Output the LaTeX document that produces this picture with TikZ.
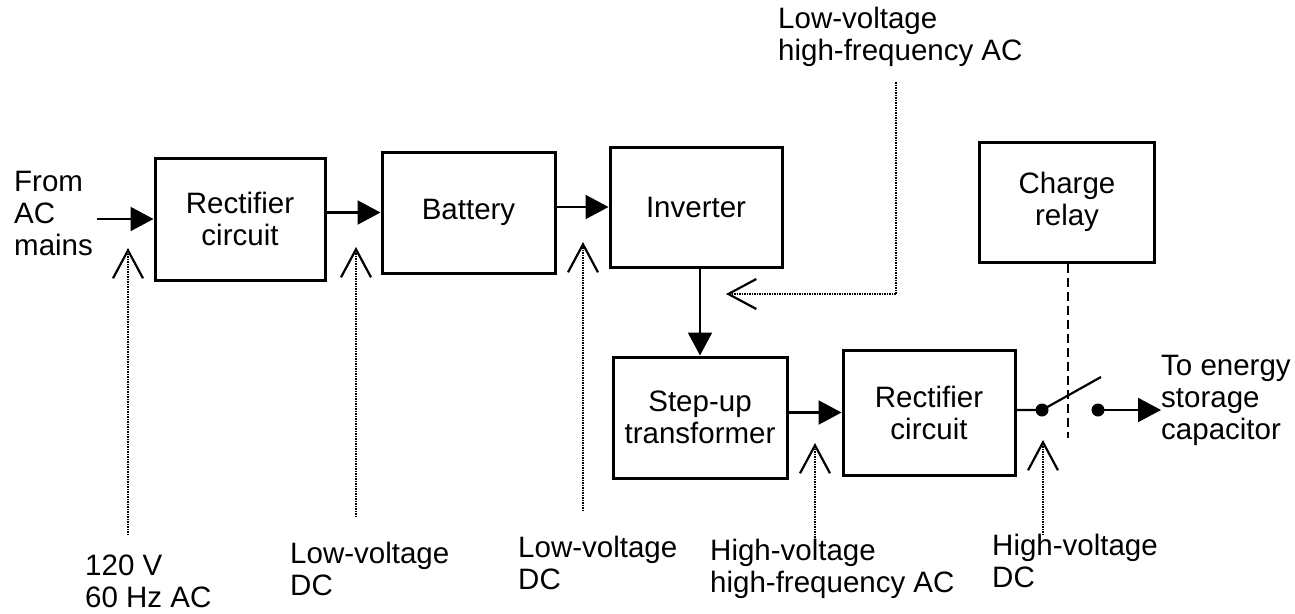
\documentclass[tikz,border=0pt]{standalone}
\usepackage{fontspec}
\setmainfont{Liberation Sans}
\usetikzlibrary{arrows.meta}
\begin{document}
\begin{tikzpicture}[x=1pt,y=-1pt,
  font=\fontsize{29.5}{32}\selectfont,
  blk/.style={draw,line width=3pt,align=center,inner sep=0pt},
  flow/.style={line width=2.2pt,-{Triangle[length=23pt,width=24pt]}},
  note/.style={line width=1.5pt,densely dotted,-{Straight Barb[length=28pt,width=30pt,line width=2.2pt]}},
  lbl/.style={align=left,inner sep=0pt,anchor=north west},
  dot/.style={circle,fill,inner sep=0pt,minimum size=13pt}]
\useasboundingbox (0,0) rectangle (1295,613);
% blocks
\node[blk,minimum width=170pt,minimum height=122pt] (rect1) at (240,219) {Rectifier\\circuit};
\node[blk,minimum width=173pt,minimum height=121pt] (batt) at (468.5,212.5) {Battery};
\node[blk,minimum width=172pt,minimum height=120pt] (inv) at (696,207) {Inverter};
\node[blk,minimum width=174pt,minimum height=121pt] (stepup) at (700,417.5) {Step-up\\transformer};
\node[blk,minimum width=172pt,minimum height=125pt] (rect2) at (929,412.5) {Rectifier\\circuit};
\node[blk,minimum width=175pt,minimum height=120pt] (relay) at (1067,202) {Charge\\relay};
% labels
\node[lbl] (mains) at (14,171) {From\\AC\\mains};
\node[lbl] (cap) at (1161,355) {To energy\\storage\\capacitor};
\node[lbl] (l120) at (85,555) {120 V\\60 Hz AC};
\node[lbl] (llv1) at (290,542) {Low-voltage\\DC};
\node[lbl] (llv2) at (518,536) {Low-voltage\\DC};
\node[lbl] (lhvac) at (710,539) {High-voltage\\high-frequency AC};
\node[lbl] (lhvdc) at (992,534) {High-voltage\\DC};
\node[lbl] (llvac) at (778,7) {Low-voltage\\high-frequency AC};
% main flow
\coordinate (in) at (97,219);
\draw[flow] (in) -- (rect1.west);
\draw[flow] (rect1.east |- batt.west) -- (batt.west);
\draw[flow] (batt.east |- inv.west) -- (inv.west);
\draw[flow] (stepup.north |- inv.south) -- (stepup.north);
\draw[flow] (stepup.east |- rect2.west) -- (rect2.west);
% switch and output
\node[dot] (d1) at (1042,410) {};
\node[dot] (d2) at (1098,410) {};
\coordinate (blade) at (1101,377);
\draw[line width=2.2pt] (rect2.east |- d1) -- (d1.center) -- (blade);
\draw[flow] (d2.center) -- (cap.west |- d2);
\coordinate (relayend) at (1068,438);
\draw[line width=2.2pt,dash pattern=on 9pt off 5pt] (relay.south -| relayend) -- (relayend);
% annotation pointers
\coordinate (a1) at (128,248); \coordinate (b1) at (128,535);
\coordinate (a2) at (356,247); \coordinate (b2) at (356,517);
\coordinate (a3) at (583,242); \coordinate (b3) at (583,511);
\coordinate (a4) at (815,443); \coordinate (b4) at (815,540);
\coordinate (a5) at (1043,440); \coordinate (b5) at (1043,535);
\draw[note] (b1) -- (a1);
\draw[note] (b2) -- (a2);
\draw[note] (b3) -- (a3);
\draw[note] (b4) -- (a4);
\draw[note] (b5) -- (a5);
\coordinate (c6) at (896,82); \coordinate (a6) at (726,294);
\draw[note] (c6) |- (a6);
\end{tikzpicture}
\end{document}
